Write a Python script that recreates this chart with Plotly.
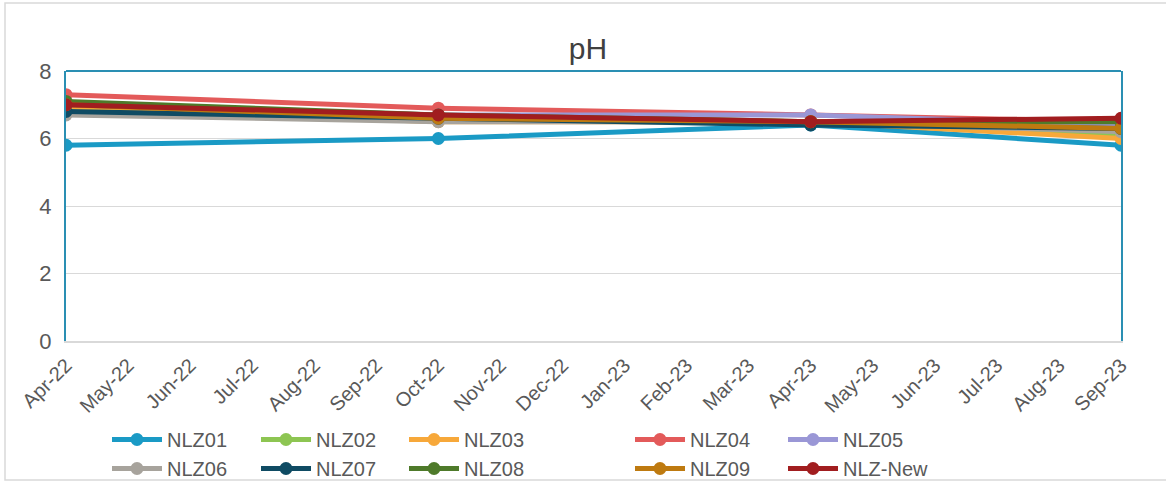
import plotly.graph_objects as go

months = ["Apr-22", "May-22", "Jun-22", "Jul-22", "Aug-22", "Sep-22", "Oct-22", "Nov-22",
          "Dec-22", "Jan-23", "Feb-23", "Mar-23", "Apr-23", "May-23", "Jun-23", "Jul-23",
          "Aug-23", "Sep-23"]
sample_dates = ["Apr-22", "Oct-22", "Apr-23", "Sep-23"]

NLZ01 = [5.8, 6.0, 6.4, 5.8]
NLZ02 = [6.9, 6.6, 6.5, 6.1]
NLZ03 = [6.9, 6.5, 6.5, 6.0]
NLZ04 = [7.3, 6.9, 6.7, 6.5]
NLZ05 = [7.0, 6.7, 6.7, 6.4]
NLZ06 = [6.7, 6.5, 6.5, 6.2]
NLZ07 = [6.8, 6.6, 6.4, 6.3]
NLZ08 = [7.1, 6.7, 6.5, 6.5]
NLZ09 = [7.0, 6.6, 6.5, 6.3]
NLZ_New = [7.0, 6.7, 6.5, 6.6]

series = [
    ("NLZ01", NLZ01, "#1A9AC5", "legend"),
    ("NLZ02", NLZ02, "#8DC552", "legend2"),
    ("NLZ03", NLZ03, "#F7A83A", "legend3"),
    ("NLZ04", NLZ04, "#E35A5A", "legend4"),
    ("NLZ05", NLZ05, "#9A97D6", "legend5"),
    ("NLZ06", NLZ06, "#A7A39C", "legend"),
    ("NLZ07", NLZ07, "#0F4B63", "legend2"),
    ("NLZ08", NLZ08, "#4E7A2A", "legend3"),
    ("NLZ09", NLZ09, "#BE7A10", "legend4"),
    ("NLZ-New", NLZ_New, "#A11D1F", "legend5"),
]

W, H = 1166, 483
L, R, T, B = 66, 45, 71, 142
pw, ph = W - L - R, H - T - B
FONT = "Liberation Sans, Arial, sans-serif"

fig = go.Figure()
for name, vals, color, lg in series:
    fig.add_trace(go.Scatter(
        x=sample_dates, y=vals, name=name, mode="lines+markers",
        line=dict(color=color, width=5),
        marker=dict(color=color, size=13),
        legend=lg,
    ))

def px2paper_x(px):
    return (px - L) / pw

def py2paper_y(py):
    return (H - B - py) / ph

legend_cols = [113, 262, 410, 636, 789]
legend_common = dict(
    orientation="v", yanchor="top", xanchor="left",
    font=dict(family=FONT, size=20, color="#595959"),
    bgcolor="rgba(0,0,0,0)", itemwidth=50, tracegroupgap=0,
)
names = ["legend", "legend2", "legend3", "legend4", "legend5"]
layout_legends = {}
for nm, cx in zip(names, legend_cols):
    layout_legends[nm] = dict(legend_common, x=px2paper_x(cx - 6), y=py2paper_y(420))

fig.update_layout(
    width=W, height=H,
    margin=dict(l=L, r=R, t=T, b=B, autoexpand=False),
    paper_bgcolor="white", plot_bgcolor="white",
    title=dict(text="pH", x=px2paper_x(588), xref="paper", xanchor="center",
               y=1 - 48 / H, yanchor="middle",
               font=dict(family=FONT, size=30, color="#404040")),
    xaxis=dict(type="category", categoryorder="array", categoryarray=months,
               tickmode="array", tickvals=months, ticktext=months,
               tickangle=-45, range=[0, len(months) - 1],
               showgrid=False, showline=True, linecolor="#D9D9D9", linewidth=1.5,
               ticks="outside", ticklen=3, tickcolor="rgba(0,0,0,0)",
               tickfont=dict(family=FONT, size=20, color="#595959")),
    yaxis=dict(range=[0, 8], tickvals=[0, 2, 4, 6, 8], showgrid=True, gridcolor="#D9D9D9",
               gridwidth=1, zeroline=False, showline=True, linecolor="#2A8FB3", linewidth=2,
               mirror=True, ticks="outside", ticklen=8, tickcolor="rgba(0,0,0,0)",
               tickfont=dict(family=FONT, size=22, color="#595959")),
    showlegend=True,
    **layout_legends,
    shapes=[
        dict(type="line", xref="paper", yref="paper", x0=0, x1=1, y0=1, y1=1,
             line=dict(color="#2A8FB3", width=2), layer="above"),
        dict(type="rect", xref="paper", yref="paper",
             x0=px2paper_x(5), x1=px2paper_x(1175), y0=py2paper_y(480), y1=py2paper_y(3),
             line=dict(color="#D9D9D9", width=1.5), layer="below"),
    ],
)

fig.write_html("out.html", config={"displayModeBar": False},
               post_script="document.body.style.margin='0px';")
